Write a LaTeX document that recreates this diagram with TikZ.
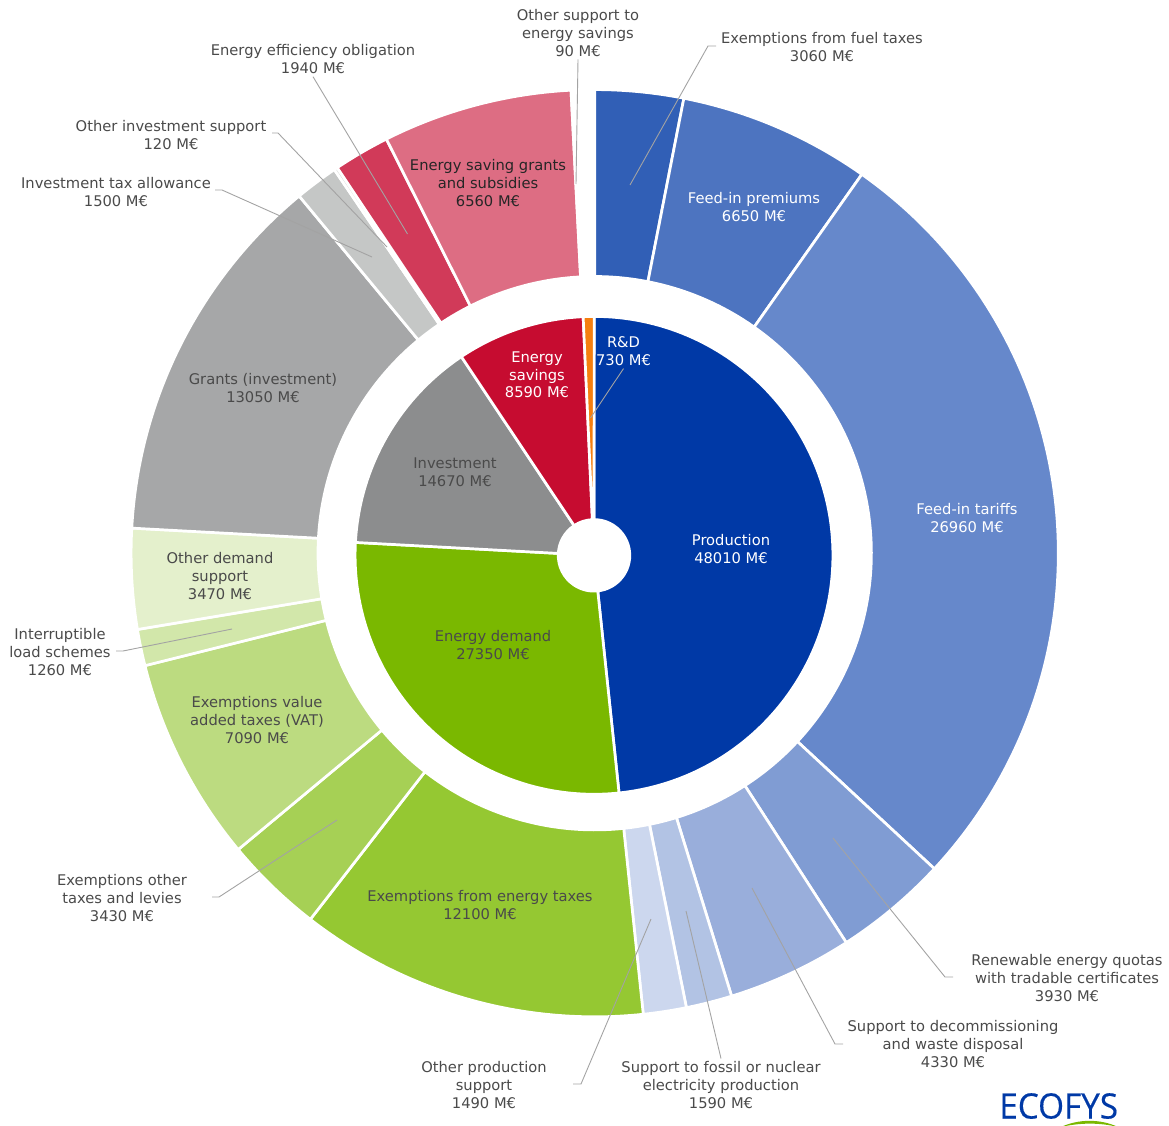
\documentclass[tikz,border=0pt]{standalone}
\usepackage{fontspec}
\setmainfont{DejaVu Sans}
\newfontfamily\logofont[FakeBold=0.4]{Open Sans}
\definecolor{txt}{HTML}{4A4A4A}
\definecolor{ldr}{HTML}{A3A3A3}
\definecolor{cA}{HTML}{0039A6}
\definecolor{cB}{HTML}{7AB800}
\definecolor{cC}{HTML}{8C8D8E}
\definecolor{cD}{HTML}{C60C30}
\definecolor{cE}{HTML}{F57F0F}
\tikzset{
  lbl/.style={font=\fontsize{14.7}{17.6}\selectfont,align=center,text=txt,inner sep=3pt},
  wlbl/.style={lbl,text=white},
  blbl/.style={lbl,text=black!85},
  leader/.style={draw=ldr,line width=0.9pt},
  seg/.style={draw=white,line width=2.7pt,line join=miter}
}
% slice bounds are cumulative sums in tens of M-euro (total 9935)
\newcommand{\ringslice}[5]{%
  \pgfmathsetmacro{\angA}{90-#2*0.0362355}%
  \pgfmathsetmacro{\angB}{90-#3*0.0362355}%
  \fill[#1,seg] (\angA:#5) arc[start angle=\angA,end angle=\angB,radius=#5]
     -- (\angB:#4) arc[start angle=\angB,end angle=\angA,radius=#4] -- cycle;
}
\begin{document}
\begin{tikzpicture}[x=1pt,y=1pt]
\useasboundingbox (0,0) rectangle (1169,-1126);
% inner ring
\begin{scope}[shift={(594.0,-555.35)}]
  \foreach \col/\a/\b in {cA/0/4801,cB/4801/7536,cC/7536/9003,cD/9003/9862,cE/9862/9935}{
    \ringslice{\col}{\a}{\b}{35.8}{238.9}
  }
\end{scope}
% outer ring
\begin{scope}[shift={(594.7,-553.2)}]
  \foreach \col/\a/\b in {
    315FB6/0/306,4D74C0/306/971,6688CB/971/3667,809CD3/3667/4060,
    99AEDB/4060/4493,B2C3E4/4493/4652,CCD7EE/4652/4801,
    95C832/4801/6011,A6D055/6011/6354,BCDB80/6354/7063,D2E7AA/7063/7189,E4F0CC/7189/7536,
    A6A7A8/7536/8841,C5C7C6/8841/8991,D9DAD9/8991/9003,
    D13A59/9003/9197,DD6D83/9197/9853,EEB6C1/9853/9862}{
    \definecolor{cur}{HTML}{\col}
    \ringslice{cur}{\a}{\b}{276.7}{463.6}
  }
\end{scope}
% labels inside
\node[wlbl] (lProd) at (731,-549) {Production\\48010 M€};
\node[wlbl] (lSav) at (537,-375) {Energy\\savings\\8590 M€};
\node[lbl] (lInv) at (455,-472) {Investment\\14670 M€};
\node[lbl] (lDem) at (493,-645) {Energy demand\\27350 M€};
\node[wlbl] (lRD) at (623.5,-351) {R\&D\\730 M€};
\node[wlbl] (lTar) at (967,-518) {Feed-in tariffs\\26960 M€};
\node[wlbl] (lPrem) at (754,-207) {Feed-in premiums\\6650 M€};
\node[blbl] (lGrantS) at (488,-183) {Energy saving grants\\and subsidies\\6560 M€};
\node[lbl] (lGr) at (263,-388) {Grants (investment)\\13050 M€};
\node[lbl] (lOD) at (220,-576) {Other demand\\support\\3470 M€};
\node[lbl] (lVAT) at (257,-720) {Exemptions value\\added taxes (VAT)\\7090 M€};
\node[lbl] (lEn) at (480,-905) {Exemptions from energy taxes\\12100 M€};
% labels outside
\node[lbl] (lFuel) at (822,-47) {Exemptions from fuel taxes\\3060 M€};
\node[lbl] (lOS) at (578,-33) {Other support to\\energy savings\\90 M€};
\node[lbl] (lEff) at (313,-59) {Energy efficiency obligation\\1940 M€};
\node[lbl] (lOI) at (171,-135) {Other investment support\\120 M€};
\node[lbl] (lTax) at (116,-192) {Investment tax allowance\\1500 M€};
\node[lbl] (lInt) at (60,-652) {Interruptible\\load schemes\\1260 M€};
\node[lbl] (lOT) at (122,-898) {Exemptions other\\taxes and levies\\3430 M€};
\node[lbl] (lOP) at (484,-1085) {Other production\\support\\1490 M€};
\node[lbl] (lFos) at (721,-1085) {Support to fossil or nuclear\\electricity production\\1590 M€};
\node[lbl] (lDec) at (953,-1044) {Support to decommissioning\\and waste disposal\\4330 M€};
\node[lbl] (lRen) at (1067,-978) {Renewable energy quotas\\with tradable certificates\\3930 M€};
% leader starts, bends and ends
\coordinate (sFuel) at (716,-46);  \coordinate (bFuel) at (708,-46);  \coordinate (eFuel) at (630,-185);
\coordinate (eOS) at (576,-184);
\coordinate (eEff) at (407.5,-234);
\coordinate (sOI) at (272,-133);   \coordinate (bOI) at (278,-133);   \coordinate (eOI) at (387,-247);
\coordinate (sTax) at (215,-190);  \coordinate (bTax) at (222,-190);  \coordinate (eTax) at (372,-257);
\coordinate (sInt) at (116,-651);  \coordinate (bInt) at (123,-651);  \coordinate (eInt) at (232,-629);
\coordinate (sOT) at (212,-897);   \coordinate (bOT) at (219,-897);   \coordinate (eOT) at (337,-820);
\coordinate (sOP) at (573,-1084);  \coordinate (bOP) at (581,-1084);  \coordinate (eOP) at (651,-919);
\coordinate (eFos) at (686,-911);
\coordinate (sDec) at (843,-1044); \coordinate (bDec) at (835,-1044); \coordinate (eDec) at (752,-888);
\coordinate (sRen) at (953,-977);  \coordinate (bRen) at (945,-977);  \coordinate (eRen) at (833,-838);
\coordinate (eRD) at (590.5,-418);
% leaders
\draw[leader] (sFuel) -- (bFuel) -- (eFuel);
\draw[leader] (lOS.south) -- (eOS);
\draw[leader] (lEff.south) -- (eEff);
\draw[leader] (sOI) -- (bOI) -- (eOI);
\draw[leader] (sTax) -- (bTax) -- (eTax);
\draw[leader] (sInt) -- (bInt) -- (eInt);
\draw[leader] (sOT) -- (bOT) -- (eOT);
\draw[leader] (sOP) -- (bOP) -- (eOP);
\draw[leader] (lFos.north) -- (eFos);
\draw[leader] (sDec) -- (bDec) -- (eDec);
\draw[leader] (sRen) -- (bRen) -- (eRen);
\draw[leader] (lRD.south) -- (eRD);
% logo
\begin{scope}
  \clip (990,-1126) rectangle (1169,-1085);
  \fill[cB] (1061,-1127) .. controls (1078,-1119) and (1100,-1118.5) .. (1118,-1127)
     .. controls (1100,-1122.5) and (1080,-1122.5) .. (1061,-1127) -- cycle;
\end{scope}
\node[font=\logofont\fontsize{35}{35}\selectfont,text=cA,inner sep=0pt,xscale=0.95] (logo) at (1058.7,-1106) {ECOFYS};
\end{tikzpicture}
\end{document}
